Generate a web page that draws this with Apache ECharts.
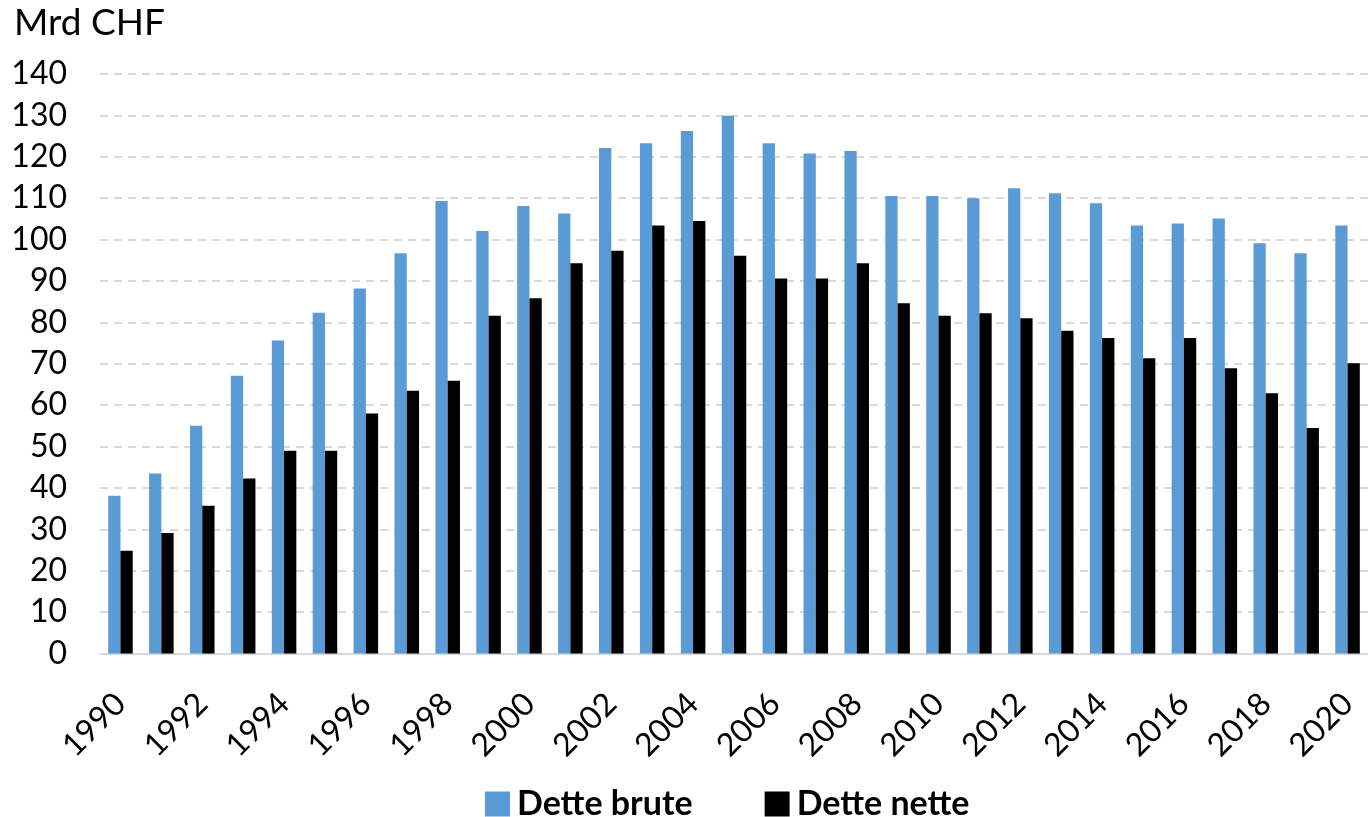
<!DOCTYPE html>
<html>
<head>
<meta charset="utf-8">
<script src="https://cdn.jsdelivr.net/npm/echarts@6/dist/echarts.min.js"></script>
<style>
  html, body { margin: 0; padding: 0; background: #fff; }
  #chart { width: 1368px; height: 817px; }
</style>
</head>
<body>
<div id="chart"></div>
<script>
// years on the x axis
const years = ['1990','1991','1992','1993','1994','1995','1996','1997','1998','1999',
  '2000','2001','2002','2003','2004','2005','2006','2007','2008','2009',
  '2010','2011','2012','2013','2014','2015','2016','2017','2018','2019','2020']
// Dette brute (Mrd CHF)
const detteBrute = [38.1, 43.5, 55.0, 67.1, 75.6, 82.3, 88.2, 96.7, 109.3, 102.1,
  108.1, 106.3, 122.1, 123.3, 126.2, 129.9, 123.3, 120.8, 121.4, 110.5,
  110.5, 110.0, 112.4, 111.2, 108.8, 103.4, 103.9, 105.1, 99.1, 96.7, 103.4]
// Dette nette (Mrd CHF)
const detteNette = [24.8, 29.1, 35.7, 42.3, 49.0, 49.0, 58.0, 63.5, 65.9, 81.6,
  85.8, 94.3, 97.3, 103.4, 104.5, 96.1, 90.6, 90.6, 94.3, 84.6,
  81.6, 82.2, 81.0, 78.0, 76.2, 71.3, 76.2, 68.9, 62.9, 54.5, 70.1]

const font = 'Lato, "Open Sans", sans-serif'
const chart = echarts.init(document.getElementById('chart'))
chart.setOption({
  animation: false,
  textStyle: { fontFamily: font },
  title: {
    text: 'Mrd CHF',
    left: 9,
    top: 0,
    textStyle: { fontFamily: font, fontSize: 37, fontWeight: 'normal', color: '#000' }
  },
  legend: {
    left: 480,
    top: 782,
    itemWidth: 25,
    itemHeight: 25,
    itemGap: 72,
    icon: 'rect',
    textStyle: { fontFamily: font, fontSize: 34, fontWeight: 'bold', color: '#000', padding: [0, 0, 0, 2] },
    data: ['Dette brute', 'Dette nette']
  },
  grid: {
    left: 100,
    right: -8,
    top: 74,
    bottom: 163.5
  },
  xAxis: {
    type: 'category',
    data: years,
    axisTick: { show: false },
    axisLine: { lineStyle: { color: '#D9D9D9', width: 2 } },
    axisLabel: {
      interval: 1,
      rotate: 45,
      margin: 45,
      fontSize: 32,
      color: '#000',
      fontFamily: font
    }
  },
  yAxis: {
    type: 'value',
    min: 0,
    max: 140,
    interval: 10,
    axisLine: { show: false },
    axisTick: { show: false },
    splitLine: { lineStyle: { color: '#D9D9D9', width: 2, type: [8, 6] } },
    axisLabel: { fontSize: 32, color: '#000', margin: 33, fontFamily: font }
  },
  series: [
    {
      name: 'Dette brute',
      type: 'bar',
      data: detteBrute,
      barWidth: '30%',
      barGap: '0%',
      itemStyle: { color: '#5B9BD5' }
    },
    {
      name: 'Dette nette',
      type: 'bar',
      data: detteNette,
      barWidth: '30%',
      barGap: '0%',
      itemStyle: { color: '#000000' }
    }
  ]
})
</script>
</body>
</html>
